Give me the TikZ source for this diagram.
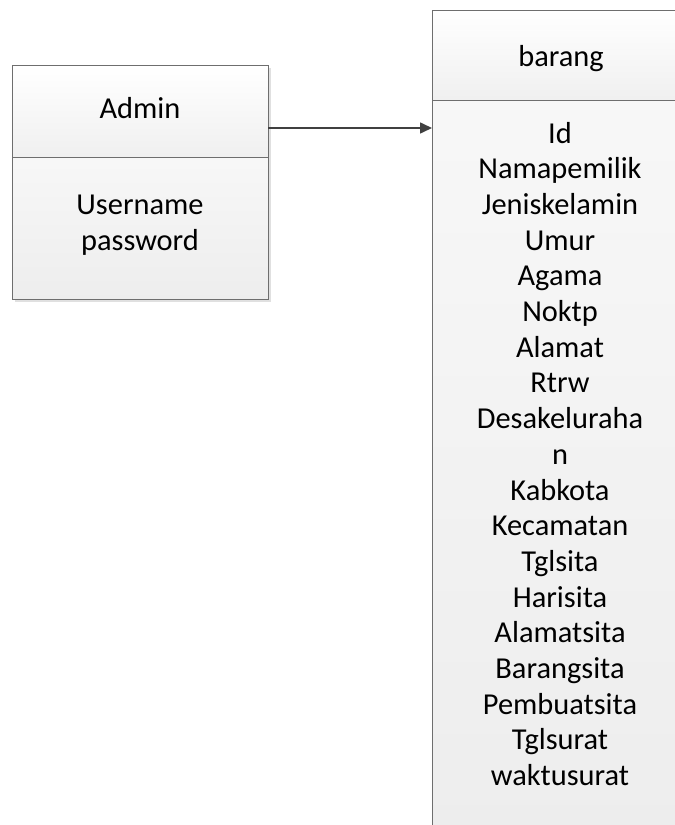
\documentclass[tikz,border=0pt]{standalone}
\usepackage{fontspec}
\setmainfont{Carlito}
\usetikzlibrary{arrows.meta}
\definecolor{edge}{HTML}{6E6E6E}
\definecolor{ink}{HTML}{404040}
\tikzset{
  compartment/.style={draw=edge, line width=1pt, top color=white, bottom color=black!6},
  lower/.style={draw=edge, line width=1pt, top color=black!3, bottom color=black!7},
  label/.style={font=\fontsize{30.4}{35.7}\selectfont, align=center, inner sep=0pt, anchor=base},
  link/.style={draw=ink, line width=1.6pt, -{Triangle[length=12pt,width=11pt]}},
}
\begin{document}
\begin{tikzpicture}[x=1pt,y=-1pt]
\useasboundingbox (0,0) rectangle (675,825);
\clip (0,0) rectangle (675,825);
% soft shadow of the Admin class
\fill[black!12] (15,68) rectangle (271,302);
% Admin class
\path[compartment] (12,65) rectangle (268,157);
\path[lower] (12,157) rectangle (268,299);
\coordinate (adminR) at (268,128);
% base anchor of a multi-line node sits on its last line
\node[label] (admin) at (140,118) {Admin};
\node[label] (adminattr) at (140,250) {Username\\password};
% barang class
\path[compartment] (432,10) rectangle (690,100);
\path[lower] (432,100) rectangle (690,830);
\coordinate (barangL) at (432,128);
\node[label] (barang) at (561,66) {barang};
\node[label] (barangattr) at (560,785.6) {Id\\Namapemilik\\Jeniskelamin\\Umur\\Agama\\Noktp\\Alamat\\Rtrw\\Desakeluraha\\n\\Kabkota\\Kecamatan\\Tglsita\\Harisita\\Alamatsita\\Barangsita\\Pembuatsita\\Tglsurat\\waktusurat};
% association
\draw[link] (adminR) -- (barangL);
\end{tikzpicture}
\end{document}
